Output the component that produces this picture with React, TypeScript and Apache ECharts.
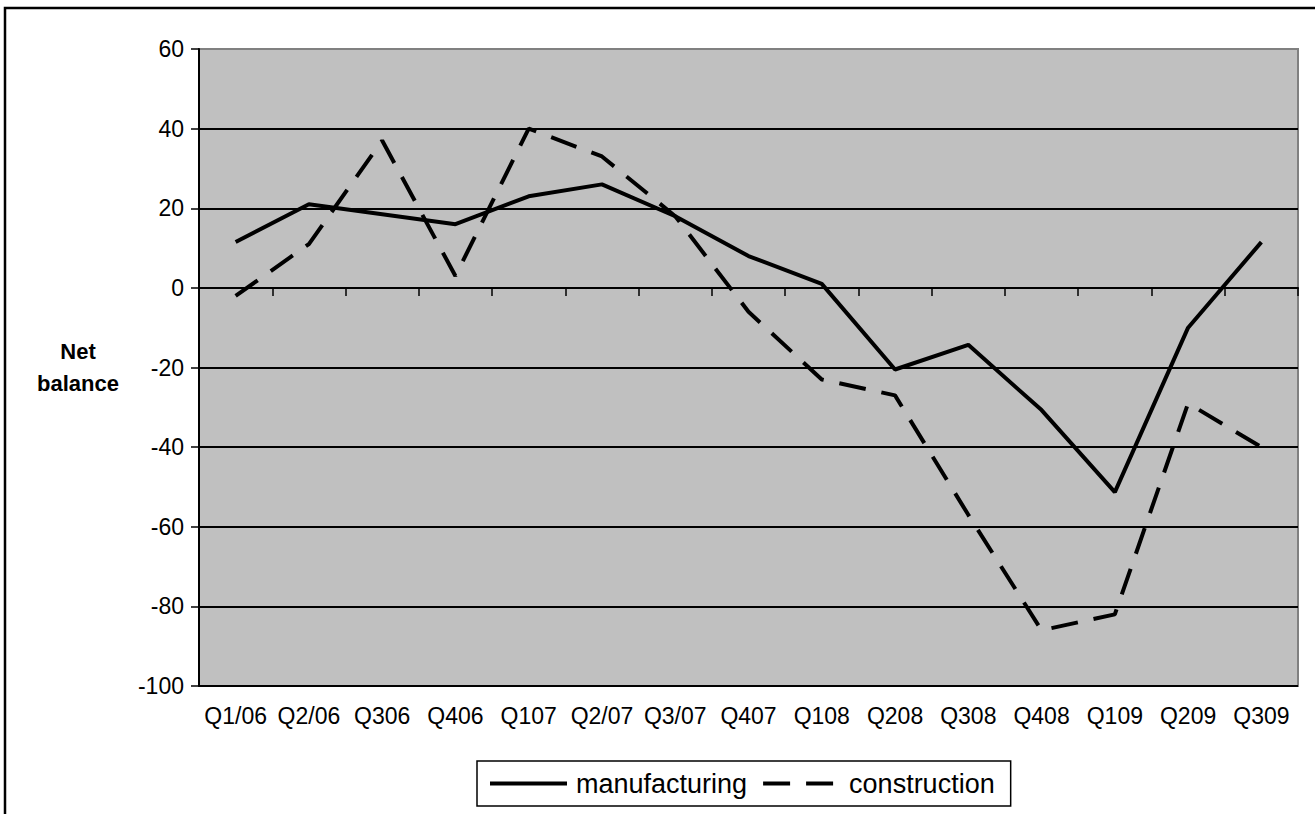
import React, { useEffect, useRef } from "react";
import * as echarts from "echarts";

const categories = ["Q1/06", "Q2/06", "Q306", "Q406", "Q107", "Q2/07", "Q3/07", "Q407", "Q108", "Q208", "Q308", "Q408", "Q109", "Q209", "Q309"];
const manufacturing = [11.5, 21, 18.5, 16, 23, 26, 18, 8, 1, -20.5, -14.3, -30.7, -51.3, -10, 11.5];
const construction = [-2, 11, 37, 3, 40, 33, 18, -6, -23, -27, -57, -86, -82, -29, -40];

const FONT = "'Liberation Sans', Arial, sans-serif";

export default function App() {
  const ref = useRef<HTMLDivElement>(null);
  useEffect(() => {
    if (!ref.current) return;
    const chart = echarts.init(ref.current, null, { renderer: "svg" });
    chart.setOption({
      animation: false,
      backgroundColor: "#ffffff",
      textStyle: { fontFamily: FONT },
      grid: {
        left: 199,
        top: 49,
        right: 17,
        bottom: 128,
        show: true,
        backgroundColor: "#C0C0C0",
        borderColor: "#808080",
        borderWidth: 2,
        containLabel: false,
      },
      xAxis: {
        type: "category",
        data: categories,
        boundaryGap: true,
        axisLine: { show: true, lineStyle: { color: "#000", width: 2 } },
        axisTick: { show: true, interval: 0, length: 8, lineStyle: { color: "#000", width: 1.5 } },
        axisLabel: { interval: 0, color: "#000", fontSize: 23, fontFamily: FONT, margin: 18 },
        splitLine: { show: false },
      },
      yAxis: {
        type: "value",
        min: -100,
        max: 60,
        interval: 20,
        axisLine: { show: true, lineStyle: { color: "#000", width: 2 } },
        axisTick: { show: true, length: 8, lineStyle: { color: "#000", width: 1.5 } },
        axisLabel: { color: "#000", fontSize: 23, fontFamily: FONT, margin: 15 },
        splitLine: { show: true, showMaxLine: false, lineStyle: { color: "#000", width: 1.8 } },
      },
      legend: {
        left: 477,
        top: 761,
        orient: "horizontal",
        padding: [9, 16, 9, 11],
        itemGap: 14,
        itemWidth: 77,
        itemHeight: 14,
        borderColor: "#000",
        borderWidth: 1.5,
        backgroundColor: "#fff",
        itemStyle: { color: "rgba(0,0,0,0)", borderWidth: 0, opacity: 0 },
        lineStyle: { width: 4 },
        textStyle: { color: "#000", fontSize: 27, fontFamily: FONT, padding: [0, 0, 0, 4] },
        data: ["manufacturing", "construction"],
      },
      graphic: [
        {
          type: "rect",
          shape: { x: 5, y: 8, width: 1400, height: 1000 },
          style: { fill: "none", stroke: "#000", lineWidth: 2.5 },
          silent: true,
          z: -10,
        },
        {
          type: "text",
          x: 78,
          y: 335,
          style: {
            text: "Net\nbalance",
            fontSize: 22,
            fontWeight: "bold",
            fontFamily: FONT,
            fill: "#000",
            align: "center",
            verticalAlign: "top",
            lineHeight: 32,
          },
        },
      ],
      series: [
        {
          name: "manufacturing",
          type: "line",
          data: manufacturing,
          symbol: "none",
          lineStyle: { color: "#000", width: 4, type: "solid", cap: "butt" },
          itemStyle: { color: "#000" },
          z: 3,
        },
        {
          name: "construction",
          type: "line",
          data: construction,
          symbol: "none",
          lineStyle: { color: "#000", width: 4, type: [27, 16], cap: "butt" },
          itemStyle: { color: "#000" },
          z: 2,
        },
      ],
    });
    return () => chart.dispose();
  }, []);
  return (
    <div
      ref={ref}
      style={{ position: "absolute", left: 0, top: 0, width: 1315, height: 814 }}
    />
  );
}
